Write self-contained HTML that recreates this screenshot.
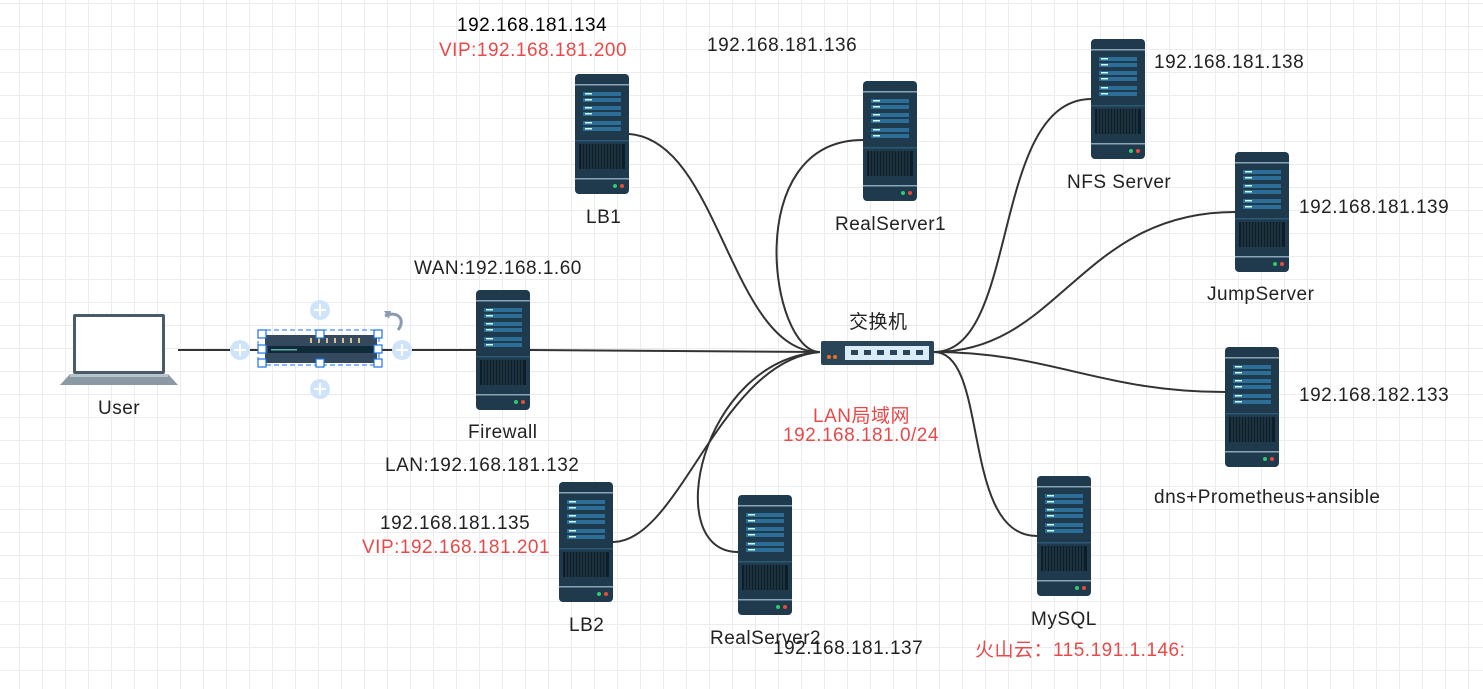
<!DOCTYPE html>
<html><head><meta charset="utf-8"><style>
html,body{margin:0;padding:0;}
body{width:1483px;height:689px;overflow:hidden;background:#fff;
background-image:linear-gradient(#ececec 1px,transparent 1px),linear-gradient(90deg,#ececec 1px,transparent 1px);
background-size:23px 23px;background-position:19px 3px;position:relative;
font-family:"Liberation Sans","Noto Sans CJK SC",sans-serif;}
.t{position:absolute;font-size:19px;letter-spacing:0.5px;color:#222;white-space:nowrap;}
.r{color:#e84a4a;}
svg{position:absolute;left:0;top:0;}
</style></head><body>
<svg width="1483" height="689" viewBox="0 0 1483 689">
<defs>
<g id="srv">
<rect x="0" y="0" width="54" height="120" rx="4" fill="#1f3a4c"/>
<rect x="0" y="10" width="54" height="1.5" fill="#8aa5b5"/>
<rect x="8" y="18" width="38" height="4" fill="#2d6e98"/><rect x="10" y="19" width="7" height="1.5" fill="#cfe"/>
<rect x="8" y="24" width="38" height="4" fill="#2d6e98"/><rect x="10" y="25" width="7" height="1.5" fill="#cfe"/>
<rect x="8" y="32" width="38" height="4" fill="#2d6e98"/><rect x="10" y="33" width="7" height="1.5" fill="#cfe"/>
<rect x="8" y="38" width="38" height="4" fill="#2d6e98"/><rect x="10" y="39" width="7" height="1.5" fill="#cfe"/>
<rect x="8" y="47" width="38" height="4" fill="#2d6e98"/><rect x="10" y="48" width="7" height="1.5" fill="#cfe"/>
<rect x="8" y="53" width="38" height="4" fill="#2d6e98"/><rect x="10" y="54" width="7" height="1.5" fill="#cfe"/>
<rect x="0" y="66" width="54" height="1.5" fill="#2a5a78"/>
<rect x="4" y="70" width="46" height="25" fill="#0e1e28"/>
<path d="M7 70v25M10 70v25M13 70v25M16 70v25M19 70v25M22 70v25M25 70v25M28 70v25M31 70v25M34 70v25M37 70v25M40 70v25M43 70v25M46 70v25" stroke="#2c4656" stroke-width="1"/>
<rect x="0" y="104" width="54" height="1.5" fill="#8aa5b5"/>
<circle cx="40" cy="112" r="2" fill="#2ecc71"/><circle cx="47" cy="112" r="2" fill="#e74c3c"/>
</g>
</defs>
<g fill="none" stroke="#333" stroke-width="2">
<path d="M178 350H258M382 350H476"/>
<path d="M530 350C650 350 700 352 820 352"/>
<path d="M629 134C720 140 730 352 820 352"/>
<path d="M863 140C740 140 770 352 820 352"/>
<path d="M613 542C680 542 720 360 820 352"/>
<path d="M738 552C660 552 700 360 820 352"/>
<path d="M934 352C1020 352 990 100 1091 99"/>
<path d="M934 352C1060 352 1080 212 1235 212"/>
<path d="M934 352C1050 352 1100 392 1225 392"/>
<path d="M934 352C990 352 960 536 1037 536"/>
</g>
<!-- laptop -->
<rect x="73" y="314" width="92" height="60" rx="2" fill="#4a5a68"/>
<rect x="76" y="317" width="86" height="54" fill="#fff"/>
<path d="M60 385L70 374H168L178 385Z" fill="#8c9aa6"/>
<rect x="70" y="374" width="98" height="3" fill="#b8c4cc"/>
<!-- router -->
<rect x="265" y="335" width="112" height="28" rx="2" fill="#34495e"/>
<rect x="268" y="346" width="106" height="7" fill="#0f2a38"/>
<rect x="271" y="349" width="26" height="1.5" fill="#6aa"/>
<g fill="#d8c48a"><rect x="310" y="338" width="2" height="5"/><rect x="318" y="338" width="2" height="5"/><rect x="326" y="338" width="2" height="5"/><rect x="334" y="338" width="2" height="5"/><rect x="342" y="338" width="2" height="5"/><rect x="350" y="338" width="2" height="5"/><rect x="358" y="338" width="2" height="5"/></g>
<rect x="258" y="330" width="121" height="35" fill="none" stroke="#1a73e8" stroke-width="1" stroke-dasharray="5 3"/>
<g fill="#fff" stroke="#1a73e8" stroke-width="1.2">
<rect x="258" y="330" width="8" height="8"/><rect x="316" y="330" width="8" height="8"/><rect x="374" y="330" width="8" height="8"/>
<rect x="258" y="345" width="8" height="8"/><rect x="374" y="345" width="8" height="8"/>
<rect x="258" y="359" width="8" height="8"/><rect x="316" y="359" width="8" height="8"/><rect x="374" y="359" width="8" height="8"/>
</g>
<g fill="#cfe3fb"><circle cx="240" cy="350" r="10"/><circle cx="402" cy="350" r="10"/><circle cx="320" cy="310" r="10"/><circle cx="320" cy="389" r="10"/></g>
<g stroke="#fff" stroke-width="2"><path d="M234 350h12M240 344v12M396 350h12M402 344v12M314 310h12M320 304v12M314 389h12M320 383v12"/></g>
<path d="M385 316C398 310 406 320 398 330" fill="none" stroke="#8a9bb0" stroke-width="3"/>
<path d="M384 311l5 8 2-8z" fill="#8a9bb0"/>
<!-- switch -->
<rect x="821" y="341" width="113" height="24" rx="2" fill="#2a4558"/>
<rect x="845" y="346" width="84" height="14" fill="#d9ecf8"/>
<g fill="#2a4558"><rect x="851" y="350" width="7" height="5"/><rect x="864" y="350" width="7" height="5"/><rect x="877" y="350" width="7" height="5"/><rect x="890" y="350" width="7" height="5"/><rect x="903" y="350" width="7" height="5"/><rect x="916" y="350" width="7" height="5"/></g>
<circle cx="829" cy="357" r="2" fill="#e8702a"/><circle cx="835" cy="357" r="2" fill="#e8702a"/>
<use href="#srv" x="575" y="74"/>
<use href="#srv" x="863" y="81"/>
<use href="#srv" x="1091" y="39"/>
<use href="#srv" x="1235" y="152"/>
<use href="#srv" x="1225" y="347"/>
<use href="#srv" x="1037" y="476"/>
<use href="#srv" x="738" y="495"/>
<use href="#srv" x="559" y="482"/>
<use href="#srv" x="476" y="290"/>
</svg>
<div class="t" style="left:457px;top:15px;color:#000">192.168.181.134</div>
<div class="t r" style="left:439px;top:40px">VIP:192.168.181.200</div>
<div class="t" style="left:707px;top:35px">192.168.181.136</div>
<div class="t" style="left:1154px;top:52px">192.168.181.138</div>
<div class="t" style="left:1299px;top:197px">192.168.181.139</div>
<div class="t" style="left:1299px;top:385px">192.168.182.133</div>
<div class="t" style="left:586px;top:207px">LB1</div>
<div class="t" style="left:835px;top:214px">RealServer1</div>
<div class="t" style="left:1067px;top:172px">NFS Server</div>
<div class="t" style="left:1207px;top:284px">JumpServer</div>
<div class="t" style="left:1154px;top:487px">dns+Prometheus+ansible</div>
<div class="t" style="left:414px;top:258px">WAN:192.168.1.60</div>
<div class="t" style="left:849px;top:307px">交换机</div>
<div class="t" style="left:98px;top:398px">User</div>
<div class="t" style="left:468px;top:422px">Firewall</div>
<div class="t r" style="left:813px;top:401px">LAN局域网</div>
<div class="t r" style="left:783px;top:425px">192.168.181.0/24</div>
<div class="t" style="left:385px;top:455px">LAN:192.168.181.132</div>
<div class="t" style="left:380px;top:513px">192.168.181.135</div>
<div class="t r" style="left:362px;top:537px">VIP:192.168.181.201</div>
<div class="t" style="left:569px;top:615px">LB2</div>
<div class="t" style="left:710px;top:628px">RealServer2</div>
<div class="t" style="left:773px;top:638px">192.168.181.137</div>
<div class="t" style="left:1031px;top:609px">MySQL</div>
<div class="t r" style="left:975px;top:635px">火山云：115.191.1.146:</div>
</body></html>
